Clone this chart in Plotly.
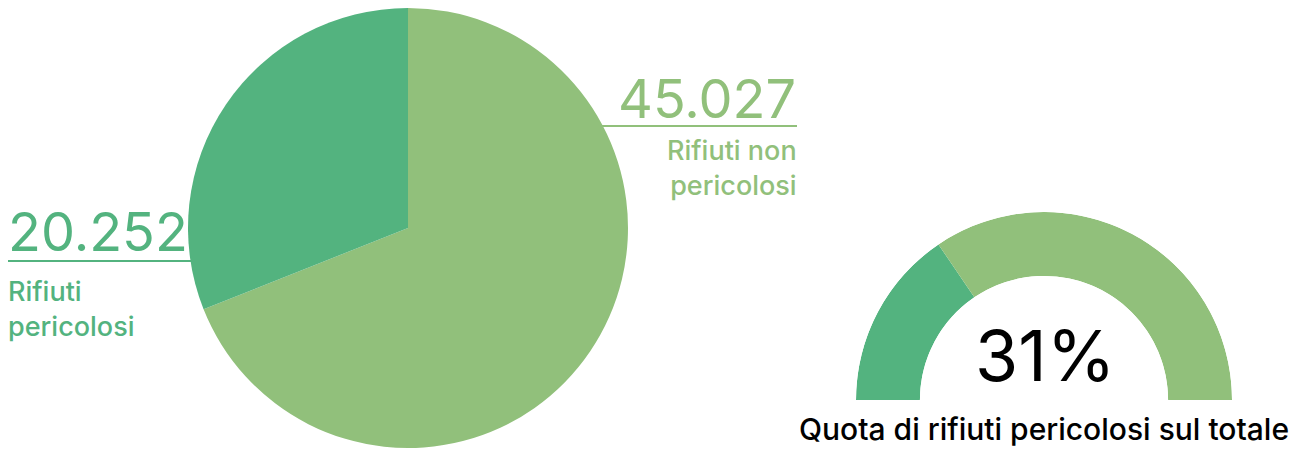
import plotly.graph_objects as go

W, H = 1306, 452

# ---- data ----
labels = ["Rifiuti non pericolosi", "Rifiuti pericolosi"]
values = [45027, 20252]
value_labels = ["45.027", "20.252"]
name_labels = ["Rifiuti non<br>pericolosi", "Rifiuti<br>pericolosi"]
share_label = "31%"
caption = "Quota di rifiuti pericolosi sul totale"

colors = ["#91C07B", "#53B37F"]
FONT = "Inter, 'Noto Sans', sans-serif"


def px(x):
    return x / W


def py(y):
    return 1 - y / H


fig = go.Figure()

# main pie
fig.add_trace(go.Pie(
    values=values, labels=labels, sort=False, direction="clockwise", rotation=0,
    marker=dict(colors=colors, line=dict(width=0)),
    textinfo="none", hoverinfo="label+value", showlegend=False,
    domain=dict(x=[px(188), px(628)], y=[py(448), py(8)]),
))

# half-donut gauge
share = values[1] / sum(values)
fig.add_trace(go.Barpolar(
    r=[1, 1],
    theta=[180 - share * 90, (1 - share) * 90],
    width=[share * 180, (1 - share) * 180],
    base=[0, 0],
    marker=dict(color=[colors[1], colors[0]], line=dict(width=0)),
    hoverinfo="skip", showlegend=False, subplot="polar",
))

fig.update_layout(
    width=W, height=H,
    margin=dict(l=0, r=0, t=0, b=0),
    paper_bgcolor="white", plot_bgcolor="white",
    polar=dict(
        domain=dict(x=[px(856), px(1232)], y=[py(400), py(212)]),
        sector=[0, 180], hole=0.66, bgcolor="white",
        radialaxis=dict(visible=False, range=[0, 1]),
        angularaxis=dict(visible=False, direction="counterclockwise", rotation=0),
    ),
    font=dict(family=FONT),
)

ann = []
# right label (non pericolosi)
ann.append(dict(x=px(798), y=py(133), xref="paper", yref="paper", xanchor="right", yanchor="bottom",
                text=value_labels[0], showarrow=False, font=dict(size=54, color=colors[0], family=FONT)))
ann.append(dict(x=px(799), y=py(132), xref="paper", yref="paper", xanchor="right", yanchor="top",
                text=name_labels[0], showarrow=False, align="right",
                font=dict(size=27, color=colors[0], family=FONT, weight=500)))
# left label (pericolosi)
ann.append(dict(x=px(6), y=py(266), xref="paper", yref="paper", xanchor="left", yanchor="bottom",
                text=value_labels[1], showarrow=False, font=dict(size=54, color=colors[1], family=FONT)))
ann.append(dict(x=px(6), y=py(273), xref="paper", yref="paper", xanchor="left", yanchor="top",
                text=name_labels[1], showarrow=False, align="left",
                font=dict(size=27, color=colors[1], family=FONT, weight=500)))
# gauge texts
ann.append(dict(x=px(1045), y=py(355), xref="paper", yref="paper", xanchor="center", yanchor="middle",
                text=share_label, showarrow=False, font=dict(size=70, color="black", family=FONT)))
ann.append(dict(x=px(1044), y=py(429), xref="paper", yref="paper", xanchor="center", yanchor="middle",
                text=caption, showarrow=False, font=dict(size=30, color="black", family=FONT, weight=500)))
fig.update_layout(annotations=ann)

# underlines
fig.add_shape(type="line", xref="paper", yref="paper", x0=px(600), x1=px(797), y0=py(126), y1=py(126),
              line=dict(color=colors[0], width=2))
fig.add_shape(type="line", xref="paper", yref="paper", x0=px(8), x1=px(192), y0=py(261), y1=py(261),
              line=dict(color=colors[1], width=2), layer="below")

fig.write_html("out.html", config={"displayModeBar": False},
               post_script="document.body.style.margin='0px';")
